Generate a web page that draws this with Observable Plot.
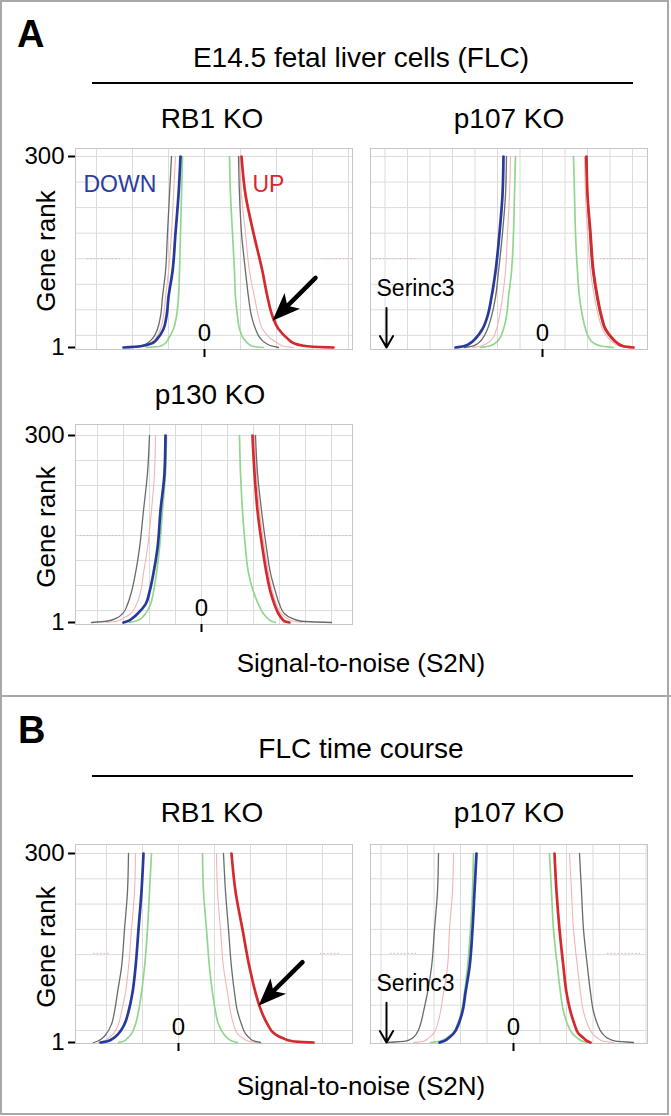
<!DOCTYPE html>
<html><head><meta charset="utf-8">
<script src="https://cdn.jsdelivr.net/npm/d3@7"></script>
<script src="https://cdn.jsdelivr.net/npm/@observablehq/plot@0.6"></script>
<style>
body{margin:0;background:#fff;}
#fig{position:relative;width:671px;height:1116px;font-family:"Liberation Sans",Arial,Helvetica,sans-serif;}
</style></head><body><div id="fig"></div>
<script>
// ---------------- DATA ----------------
const ranks = [1, 3, 8, 15, 30, 50, 80, 120, 180, 240, 300];
const yTickValues = [1, 300];
const xTickValues = [0];

// A: E14.5 FLC, RB1 KO
const A_RB1_down   = [-0.81,-0.64,-0.52,-0.47,-0.41,-0.38,-0.36,-0.32,-0.29,-0.26,-0.24];
const A_RB1_blackL = [-0.71,-0.64,-0.57,-0.52,-0.47,-0.44,-0.42,-0.39,-0.37,-0.35,-0.33];
const A_RB1_pinkL  = [-0.72,-0.62,-0.54,-0.49,-0.44,-0.41,-0.39,-0.36,-0.33,-0.31,-0.29];
const A_RB1_greenL = [-0.58,-0.44,-0.39,-0.36,-0.31,-0.28,-0.26,-0.25,-0.24,-0.23,-0.22];
const A_RB1_up     = [1.29,1.03,0.89,0.83,0.74,0.68,0.63,0.58,0.49,0.41,0.37];
const A_RB1_blackR = [0.74,0.68,0.61,0.56,0.51,0.47,0.44,0.41,0.37,0.35,0.34];
const A_RB1_pinkR  = [0.89,0.79,0.73,0.66,0.58,0.54,0.50,0.45,0.41,0.37,0.35];
const A_RB1_greenR = [0.59,0.48,0.43,0.39,0.35,0.33,0.31,0.30,0.28,0.26,0.25];

// A: p107 KO
const A_p107_down   = [-0.87,-0.79,-0.72,-0.67,-0.60,-0.55,-0.51,-0.47,-0.43,-0.40,-0.39];
const A_p107_blackL = [-0.78,-0.70,-0.64,-0.60,-0.55,-0.51,-0.47,-0.44,-0.40,-0.37,-0.36];
const A_p107_pinkL  = [-0.70,-0.62,-0.55,-0.50,-0.46,-0.43,-0.40,-0.37,-0.35,-0.33,-0.32];
const A_p107_greenL = [-0.62,-0.54,-0.47,-0.43,-0.39,-0.36,-0.34,-0.31,-0.29,-0.28,-0.27];
const A_p107_up     = [0.91,0.81,0.75,0.70,0.63,0.59,0.55,0.51,0.48,0.45,0.44];
const A_p107_blackR = [0.88,0.79,0.74,0.69,0.62,0.58,0.54,0.50,0.47,0.45,0.43];
const A_p107_pinkR  = [0.85,0.77,0.71,0.66,0.60,0.56,0.52,0.48,0.45,0.43,0.42];
const A_p107_greenR = [0.71,0.60,0.51,0.47,0.43,0.40,0.37,0.35,0.33,0.32,0.31];

// A: p130 KO
const A_p130_down   = [-0.78,-0.74,-0.69,-0.64,-0.56,-0.52,-0.48,-0.44,-0.41,-0.37,-0.36];
const A_p130_blackL = [-1.10,-0.95,-0.85,-0.79,-0.74,-0.70,-0.66,-0.62,-0.58,-0.54,-0.52];
const A_p130_pinkL  = [-0.95,-0.85,-0.78,-0.71,-0.65,-0.61,-0.58,-0.54,-0.50,-0.47,-0.46];
const A_p130_greenL = [-0.72,-0.66,-0.60,-0.56,-0.51,-0.48,-0.45,-0.42,-0.39,-0.36,-0.35];
const A_p130_up     = [0.88,0.83,0.80,0.77,0.73,0.69,0.65,0.61,0.56,0.53,0.51];
const A_p130_blackR = [1.30,1.00,0.90,0.83,0.78,0.74,0.69,0.65,0.60,0.56,0.54];
const A_p130_pinkR  = [1.00,0.92,0.85,0.80,0.75,0.71,0.67,0.63,0.58,0.55,0.53];
const A_p130_greenR = [0.74,0.70,0.66,0.62,0.57,0.52,0.47,0.44,0.41,0.39,0.38];

// B: FLC time course, RB1 KO
const B_RB1_down   = [-0.78,-0.71,-0.65,-0.60,-0.54,-0.50,-0.46,-0.43,-0.40,-0.37,-0.35];
const B_RB1_blackL = [-0.85,-0.81,-0.76,-0.72,-0.67,-0.64,-0.61,-0.57,-0.54,-0.51,-0.50];
const B_RB1_pinkL  = [-0.80,-0.75,-0.70,-0.65,-0.60,-0.57,-0.53,-0.50,-0.47,-0.44,-0.43];
const B_RB1_greenL = [-0.60,-0.55,-0.51,-0.47,-0.43,-0.40,-0.37,-0.34,-0.31,-0.29,-0.27];
const B_RB1_up     = [1.35,1.14,1.04,0.96,0.89,0.83,0.77,0.71,0.64,0.57,0.53];
const B_RB1_blackR = [0.82,0.76,0.71,0.67,0.63,0.59,0.56,0.53,0.50,0.47,0.45];
const B_RB1_pinkR  = [0.79,0.70,0.64,0.59,0.55,0.52,0.49,0.45,0.42,0.39,0.38];
const B_RB1_greenR = [0.59,0.54,0.49,0.45,0.40,0.37,0.34,0.31,0.28,0.25,0.24];

// B: p107 KO
const B_p107_down   = [-0.74,-0.70,-0.65,-0.60,-0.55,-0.51,-0.48,-0.44,-0.41,-0.39,-0.37];
const B_p107_blackL = [-1.26,-1.08,-1.01,-0.97,-0.93,-0.90,-0.86,-0.82,-0.79,-0.76,-0.75];
const B_p107_pinkL  = [-1.00,-0.90,-0.85,-0.80,-0.76,-0.73,-0.70,-0.66,-0.64,-0.61,-0.60];
const B_p107_greenL = [-0.83,-0.74,-0.67,-0.61,-0.56,-0.52,-0.49,-0.46,-0.43,-0.41,-0.40];
const B_p107_up     = [0.77,0.74,0.70,0.65,0.61,0.57,0.53,0.50,0.46,0.43,0.41];
const B_p107_blackR = [1.20,1.02,0.94,0.89,0.84,0.80,0.77,0.74,0.70,0.68,0.66];
const B_p107_pinkR  = [1.00,0.90,0.84,0.79,0.74,0.70,0.67,0.64,0.60,0.58,0.56];
const B_p107_greenR = [0.75,0.69,0.64,0.59,0.54,0.50,0.47,0.44,0.40,0.38,0.36];

// annotations
const dirLabels = [
  {panel:"A_RB1", label:"DOWN", s2n:-1.21, rank:245, kind:"down"},
  {panel:"A_RB1", label:"UP", s2n:0.48, rank:245, kind:"up"}
];
const bigArrows = [
  {panel:"A_RB1", fromS2n:1.11, fromRank:110, toS2n:0.68, toRank:43},
  {panel:"B_RB1", fromS2n:1.24, fromRank:128, toS2n:0.80, toRank:59}
];
const serinc3 = [
  {panel:"A_p107", label:"Serinc3", s2n:-1.56, labelS2n:-1.66, labelRank:82, fromRank:63, toRank:1},
  {panel:"B_p107", label:"Serinc3", s2n:-1.27, labelS2n:-1.37, labelRank:83, fromRank:64, toRank:1}
];
const faintSegments = [
  {panel:"A_RB1", rank:140, a:-1.17, b:-0.84}, {panel:"A_RB1", rank:140, a:1.18, b:1.48},
  {panel:"A_p107", rank:140, a:-1.70, b:-1.24}, {panel:"A_p107", rank:140, a:0.58, b:1.03},
  {panel:"A_p130", rank:140, a:-1.21, b:-0.78}, {panel:"A_p130", rank:140, a:0.99, b:1.51},
  {panel:"B_RB1", rank:142, a:-0.85, b:-0.68}, {panel:"B_RB1", rank:142, a:1.42, b:1.62},
  {panel:"B_p107", rank:142, a:-1.23, b:-0.96}, {panel:"B_p107", rank:142, a:0.94, b:1.27}
];

// ---------------- TABLE ----------------
const curveSets = [
  ["A_RB1","down",A_RB1_down],["A_RB1","blackL",A_RB1_blackL],["A_RB1","pinkL",A_RB1_pinkL],["A_RB1","greenL",A_RB1_greenL],
  ["A_RB1","up",A_RB1_up],["A_RB1","blackR",A_RB1_blackR],["A_RB1","pinkR",A_RB1_pinkR],["A_RB1","greenR",A_RB1_greenR],
  ["A_p107","down",A_p107_down],["A_p107","blackL",A_p107_blackL],["A_p107","pinkL",A_p107_pinkL],["A_p107","greenL",A_p107_greenL],
  ["A_p107","up",A_p107_up],["A_p107","blackR",A_p107_blackR],["A_p107","pinkR",A_p107_pinkR],["A_p107","greenR",A_p107_greenR],
  ["A_p130","down",A_p130_down],["A_p130","blackL",A_p130_blackL],["A_p130","pinkL",A_p130_pinkL],["A_p130","greenL",A_p130_greenL],
  ["A_p130","up",A_p130_up],["A_p130","blackR",A_p130_blackR],["A_p130","pinkR",A_p130_pinkR],["A_p130","greenR",A_p130_greenR],
  ["B_RB1","down",B_RB1_down],["B_RB1","blackL",B_RB1_blackL],["B_RB1","pinkL",B_RB1_pinkL],["B_RB1","greenL",B_RB1_greenL],
  ["B_RB1","up",B_RB1_up],["B_RB1","blackR",B_RB1_blackR],["B_RB1","pinkR",B_RB1_pinkR],["B_RB1","greenR",B_RB1_greenR],
  ["B_p107","down",B_p107_down],["B_p107","blackL",B_p107_blackL],["B_p107","pinkL",B_p107_pinkL],["B_p107","greenL",B_p107_greenL],
  ["B_p107","up",B_p107_up],["B_p107","blackR",B_p107_blackR],["B_p107","pinkR",B_p107_pinkR],["B_p107","greenR",B_p107_greenR]
];
const curves = curveSets.flatMap(([panel, kind, vals]) =>
  vals.map((v, i) => ({panel, kind, group: kind.replace(/[LR]$/, ""), rank: ranks[i], s2n: v})));

// ---------------- STYLE / LAYOUT ----------------
const FONT = '"Liberation Sans", Arial, Helvetica, sans-serif';
const PX = 100;
const groupStyle = [
  {group:"pink",  stroke:"#f2b4b8", width:1.1},
  {group:"green", stroke:"#92d68e", width:1.7},
  {group:"black", stroke:"#6a6a6a", width:1.3},
  {group:"down",  stroke:"#27399c", width:2.7},
  {group:"up",    stroke:"#d42a2e", width:2.7}
];
const colorOf = {down:"#2b3d9f", up:"#d8282d"};
const layout = {
  A_RB1:  {fx:75,  fy:148, fw:277, fh:201, zero:204, y300:156, y1:347, grid:0.36,  yLabels:true},
  A_p107: {fx:370, fy:148, fw:277, fh:201, zero:542, y300:156, y1:347, grid:0.225, yLabels:false},
  A_p130: {fx:75,  fy:424, fw:277, fh:200, zero:201, y300:435, y1:622, grid:0.26,  yLabels:true},
  B_RB1:  {fx:75,  fy:844, fw:277, fh:199, zero:178, y300:853, y1:1042, grid:0.36, yLabels:true},
  B_p107: {fx:370, fy:844, fw:277, fh:199, zero:513, y300:853, y1:1042, grid:0.265, yLabels:false}
};

const fig = document.getElementById("fig");

// ---------------- BACKGROUND (frame, titles) ----------------
const bg = d3.select(fig).append("svg")
  .attr("width", 671).attr("height", 1116)
  .style("position", "absolute").style("left", "0px").style("top", "0px")
  .style("font-family", FONT);
bg.append("rect").attr("x", 1).attr("y", 1).attr("width", 667).attr("height", 1113)
  .attr("fill", "none").attr("stroke", "#a8a8a8").attr("stroke-width", 2);
bg.append("line").attr("x1", 0).attr("x2", 671).attr("y1", 696).attr("y2", 696)
  .attr("stroke", "#a8a8a8").attr("stroke-width", 2);
const rules = [{x1:92, x2:633, y:83}, {x1:92, x2:633, y:776}];
bg.selectAll("line.h").data(rules).join("line").attr("class", "h")
  .attr("x1", d => d.x1).attr("x2", d => d.x2).attr("y1", d => d.y).attr("y2", d => d.y)
  .attr("stroke", "#000").attr("stroke-width", 2);
const texts = [
  {t:"A", x:17, y:47, size:38, weight:"bold", anchor:"start"},
  {t:"B", x:18, y:743, size:38, weight:"bold", anchor:"start"},
  {t:"E14.5 fetal liver cells (FLC)", x:361, y:67, size:28},
  {t:"RB1 KO", x:212, y:128, size:28},
  {t:"p107 KO", x:509, y:128, size:28},
  {t:"p130 KO", x:210, y:404, size:28},
  {t:"Signal-to-noise (S2N)", x:361, y:672, size:26},
  {t:"FLC time course", x:361, y:758, size:28},
  {t:"RB1 KO", x:212, y:822, size:28},
  {t:"p107 KO", x:509, y:822, size:28},
  {t:"Signal-to-noise (S2N)", x:361, y:1095, size:26}
];
bg.selectAll("text.t").data(texts).join("text").attr("class", "t")
  .attr("x", d => d.x).attr("y", d => d.y)
  .attr("text-anchor", d => d.anchor || "middle")
  .attr("font-size", d => d.size).attr("font-weight", d => d.weight || "normal")
  .attr("fill", "#000").text(d => d.t);
const yTitles = [{x:55, y:251}, {x:55, y:527}, {x:55, y:947}];
bg.selectAll("text.yt").data(yTitles).join("text").attr("class", "yt")
  .attr("transform", d => `translate(${d.x},${d.y}) rotate(-90)`)
  .attr("text-anchor", "middle").attr("font-size", 26).attr("fill", "#000").text("Gene rank");

// ---------------- PANELS ----------------
const arrowHead = {
  draw(ctx) { ctx.moveTo(0, 0); ctx.lineTo(-11, 28); ctx.lineTo(0, 21); ctx.lineTo(11, 28); ctx.closePath(); }
};

function makePanel(id) {
  const L = layout[id];
  const svgLeft = L.fx < 200 ? 0 : 360;
  const mL = L.fx - svgLeft, mR = 10, mT = 12, mB = 16;
  const k = (L.y1 - L.y300) / 299;
  const yDom = [1 - (L.fy + L.fh - L.y1) / k, 300 + (L.y300 - L.fy) / k];
  const xDom = [(L.fx - L.zero) / PX, (L.fx + L.fw - L.zero) / PX];
  const rows = curves.filter(d => d.panel === id);
  const gx = d3.range(Math.ceil(xDom[0] / L.grid), Math.floor(xDom[1] / L.grid) + 1).map(i => i * L.grid);
  const gy = d3.range(20, 301, 40);
  const marks = [
    Plot.gridX(gx, {stroke:"#dcdcdc", strokeOpacity:1}),
    Plot.gridY(gy, {stroke:"#dcdcdc", strokeOpacity:1}),
    Plot.frame({stroke:"#c6c6c6"}),
    Plot.ruleY(faintSegments.filter(d => d.panel === id), {y:"rank", x1:"a", x2:"b", stroke:"#d9b8c4", strokeDasharray:"1.5,2", strokeWidth:1})
  ];
  for (const g of groupStyle) {
    marks.push(Plot.line(rows.filter(d => d.group === g.group), {
      x:"s2n", y:"rank", z:"kind", stroke:g.stroke, strokeWidth:g.width, curve:"monotone-y"
    }));
  }
  marks.push(
    Plot.text(dirLabels.filter(d => d.panel === id), {
      x:"s2n", y:"rank", text:"label", fill:d => colorOf[d.kind], fontSize:23,
      textAnchor:"start", lineAnchor:"bottom"
    }),
    Plot.arrow(bigArrows.filter(d => d.panel === id), {
      x1:"fromS2n", y1:"fromRank", x2:"toS2n", y2:"toRank",
      stroke:"#000", strokeWidth:4.5, headLength:0, insetEnd:14
    }),
    Plot.dot(bigArrows.filter(d => d.panel === id), {
      x:"toS2n", y:"toRank", symbol:arrowHead, rotate:225, fill:"#000", stroke:"none"
    }),
    Plot.arrow(serinc3.filter(d => d.panel === id), {
      x:"s2n", y1:"fromRank", y2:"toRank", stroke:"#000", strokeWidth:2, headLength:11, headAngle:60
    }),
    Plot.text(serinc3.filter(d => d.panel === id), {
      x:"labelS2n", y:"labelRank", text:"label", fontSize:23, fill:"#000",
      textAnchor:"start", lineAnchor:"bottom"
    }),
    Plot.axisX({ticks:xTickValues, tickSize:8, tickFormat:() => "", strokeWidth:2, stroke:"#000", label:null}),
    Plot.text(xTickValues, {x:d => d, text:d => String(d), frameAnchor:"bottom", dy:-9, lineAnchor:"bottom", fontSize:24, fill:"#000"})
  );
  if (L.yLabels) {
    marks.push(Plot.axisY({ticks:yTickValues, tickSize:7, tickPadding:4, fontSize:24, strokeWidth:2,
      tickFormat:d => String(d), label:null, color:"#000"}));
  }
  const svg = Plot.plot({
    width: mL + L.fw + mR, height: mT + L.fh + mB,
    marginLeft: mL, marginRight: mR, marginTop: mT, marginBottom: mB,
    x: {domain: xDom, axis: null},
    y: {domain: yDom, axis: null},
    style: {fontFamily: FONT, background: "transparent", color: "#000", overflow: "visible", maxWidth: "none"},
    marks
  });
  svg.style.position = "absolute";
  svg.style.left = svgLeft + "px";
  svg.style.top = (L.fy - mT) + "px";
  fig.appendChild(svg);
}
Object.keys(layout).forEach(makePanel);
</script></body></html>
